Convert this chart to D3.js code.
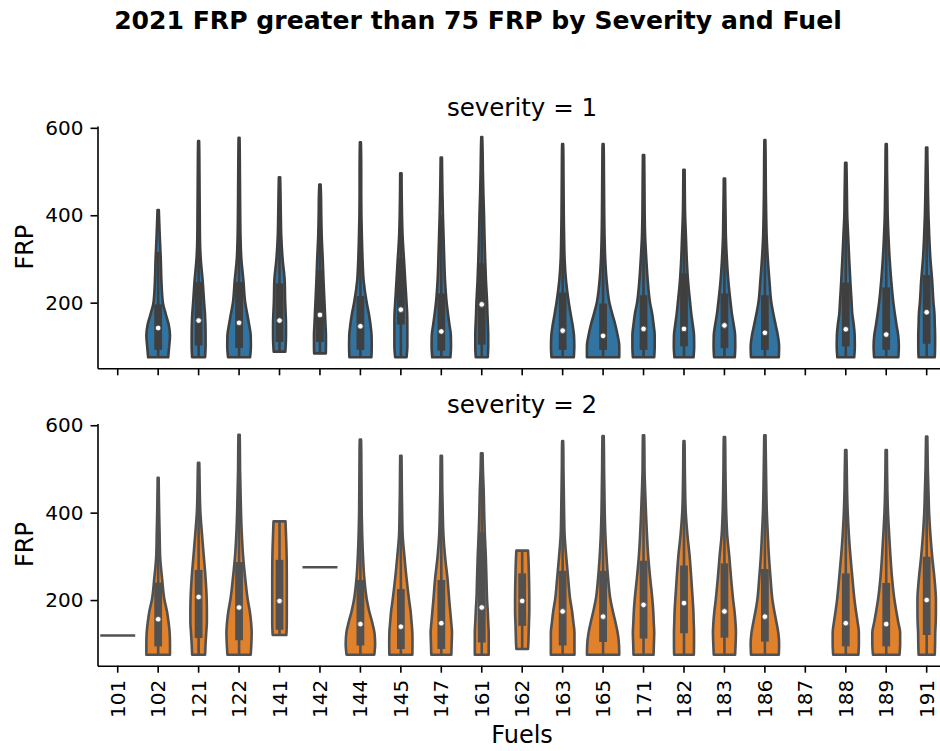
<!DOCTYPE html>
<html>
<head>
<meta charset="utf-8">
<script src="https://cdn.jsdelivr.net/npm/d3@7"></script>
<style>
  body { margin: 0; background: #fff; }
  text { font-family: "DejaVu Sans", sans-serif; fill: #000; }
</style>
</head>
<body>
<svg id="chart" width="940" height="751"></svg>
<script>
// Fuel codes along the x axis
const fuels = ["101","102","121","122","141","142","144","145","147","161","162",
               "163","165","171","182","183","186","187","188","189","191"];
const severities = [1, 2];
const frpTicks = [200, 400, 600];

// FRP levels at which each kernel density is sampled (between a violin's min and max)
const densityGrid = [75, 100, 125, 150, 175, 200, 250, 300, 350, 400, 450, 500, 550];

// ---- severity = 1 ----
const sev1Min     = [null,75,75,75,88,84,75,75,75,75,null,75,75,75,75,75,75,null,75,75,75];
const sev1Max     = [null,412,570,577,487,470,567,496,532,579,null,563,563,538,504,484,572,null,520,563,555];
const sev1Q1      = [null,92,102,96,110,110,92,150,90,104,null,92,92,92,100,96,92,null,100,92,106];
const sev1Median  = [null,142,159,154,159,172,146,184,134,196,null,136,124,140,140,148,131,null,139,127,178];
const sev1Q3      = [null,196,247,247,244,274,215,301,221,290,null,223,198,217,267,221,217,null,246,235,263];
const sev1Whisker = [null,316,460,460,445,470,390,496,400,560,null,420,355,400,480,400,400,null,460,440,500];
// density at [min, grid levels inside (min, max), max], relative to the widest violin
const sev1Density = [
  null,
  [0.62,0.68,0.73,0.65,0.46,0.29,0.20,0.16,0.10,0.05,0.04],
  [0.40,0.43,0.43,0.42,0.39,0.34,0.25,0.13,0.08,0.07,0.06,0.05,0.04,0.03],
  [0.68,0.73,0.72,0.62,0.50,0.38,0.27,0.14,0.09,0.07,0.06,0.05,0.04,0.03],
  [0.36,0.38,0.40,0.40,0.38,0.35,0.32,0.19,0.11,0.08,0.06,0.04],
  [0.36,0.37,0.37,0.34,0.31,0.28,0.22,0.17,0.11,0.08,0.06,0.04],
  [0.68,0.70,0.69,0.62,0.52,0.39,0.20,0.13,0.09,0.06,0.05,0.05,0.04,0.03],
  [0.35,0.40,0.40,0.40,0.39,0.35,0.27,0.19,0.11,0.07,0.05,0.04],
  [0.56,0.60,0.59,0.50,0.41,0.33,0.23,0.18,0.14,0.10,0.07,0.05,0.04],
  [0.37,0.40,0.40,0.38,0.35,0.33,0.26,0.21,0.17,0.14,0.10,0.07,0.05,0.03],
  null,
  [0.69,0.72,0.70,0.61,0.49,0.38,0.21,0.12,0.09,0.07,0.06,0.05,0.04,0.03],
  [1.00,1.00,0.90,0.75,0.56,0.39,0.22,0.13,0.09,0.07,0.06,0.05,0.04,0.03],
  [0.66,0.69,0.69,0.62,0.53,0.40,0.26,0.17,0.10,0.07,0.06,0.05,0.04],
  [0.59,0.63,0.62,0.54,0.45,0.38,0.25,0.17,0.12,0.07,0.05,0.04,0.04],
  [0.64,0.67,0.66,0.57,0.46,0.38,0.24,0.15,0.09,0.07,0.05,0.04],
  [0.86,0.88,0.80,0.66,0.52,0.40,0.28,0.18,0.11,0.08,0.06,0.05,0.04,0.03],
  null,
  [0.52,0.56,0.55,0.49,0.40,0.36,0.28,0.21,0.15,0.09,0.07,0.05,0.04],
  [0.75,0.78,0.74,0.63,0.53,0.44,0.31,0.21,0.14,0.09,0.07,0.05,0.04,0.03],
  [0.50,0.52,0.52,0.50,0.48,0.42,0.34,0.23,0.16,0.11,0.08,0.06,0.04,0.04]
];

// ---- severity = 2 ----
const sev2Min     = [119,75,75,75,120,275,75,75,75,75,88,75,75,75,75,75,75,null,75,75,75];
const sev2Max     = [119,480,514,578,380,275,567,530,530,536,313,564,575,577,564,573,577,null,543,543,574];
const sev2Q1      = [119,94,113,108,132,275,96,88,88,103,141,96,104,112,124,114,105,null,94,94,120];
const sev2Median  = [119,156,207,183,198,275,145,139,147,183,198,174,162,189,193,174,162,null,147,145,200];
const sev2Q3      = [119,240,269,287,292,275,246,225,246,355,261,267,267,290,279,284,271,null,261,239,299];
const sev2Whisker = [119,450,480,560,380,275,450,420,420,536,313,500,500,540,520,520,500,null,500,450,540];
const sev2Density = [
  [1.00],
  [0.73,0.73,0.71,0.64,0.54,0.39,0.24,0.12,0.09,0.06,0.04,0.03],
  [0.40,0.43,0.47,0.51,0.51,0.50,0.43,0.32,0.21,0.11,0.07,0.05,0.04],
  [0.72,0.76,0.78,0.74,0.66,0.54,0.38,0.25,0.17,0.12,0.09,0.06,0.05,0.04],
  [0.42,0.43,0.45,0.45,0.45,0.45,0.44,0.40,0.37],
  [1.00],
  [0.86,0.91,0.87,0.72,0.54,0.40,0.24,0.16,0.11,0.08,0.07,0.06,0.05,0.04],
  [0.71,0.72,0.71,0.66,0.60,0.51,0.35,0.22,0.11,0.08,0.06,0.05,0.04],
  [0.62,0.64,0.66,0.61,0.55,0.49,0.38,0.23,0.13,0.09,0.06,0.05,0.04],
  [0.43,0.43,0.43,0.40,0.37,0.33,0.29,0.25,0.19,0.15,0.12,0.07,0.05],
  [0.36,0.38,0.40,0.42,0.44,0.44,0.42,0.38,0.36],
  [0.73,0.73,0.73,0.66,0.58,0.47,0.34,0.22,0.12,0.09,0.07,0.05,0.04,0.03],
  [1.00,0.98,0.90,0.76,0.60,0.46,0.31,0.21,0.14,0.10,0.08,0.06,0.05,0.04],
  [0.62,0.64,0.66,0.63,0.60,0.55,0.41,0.29,0.21,0.15,0.10,0.06,0.05,0.04],
  [0.61,0.62,0.62,0.60,0.58,0.54,0.45,0.35,0.21,0.11,0.07,0.05,0.04,0.03],
  [0.66,0.69,0.71,0.68,0.62,0.54,0.41,0.30,0.17,0.11,0.08,0.06,0.05,0.04],
  [0.86,0.88,0.83,0.71,0.58,0.47,0.35,0.25,0.18,0.12,0.09,0.07,0.05,0.04],
  null,
  [0.78,0.81,0.81,0.73,0.63,0.54,0.41,0.29,0.19,0.12,0.08,0.06,0.04],
  [0.82,0.86,0.86,0.74,0.62,0.51,0.36,0.26,0.18,0.11,0.07,0.05,0.04],
  [0.50,0.52,0.53,0.56,0.57,0.57,0.48,0.34,0.23,0.15,0.11,0.07,0.05,0.04]
];

// ---------------------------------------------------------------------------
const svg = d3.select("#chart");
const FONT = "DejaVu Sans";

const panels = [
  { severity: severities[0], top: 126, bottom: 368.3, fill: "#3274a1", gray: "#3f3f3f",
    min: sev1Min, max: sev1Max, q1: sev1Q1, med: sev1Median, q3: sev1Q3, wh: sev1Whisker, dens: sev1Density,
    showLabels: false },
  { severity: severities[1], top: 423.4, bottom: 665.7, fill: "#e1812c", gray: "#515151",
    min: sev2Min, max: sev2Max, q1: sev2Q1, med: sev2Median, q3: sev2Q3, wh: sev2Whisker, dens: sev2Density,
    showLabels: true }
];

// shared x (categorical) scale
const x = d3.scaleBand().domain(fuels).range([97.5, 946.9]).paddingInner(0).paddingOuter(0);
const halfW = x.bandwidth() * 0.4;   // violins span 0.8 of a category

// shared y domain: data range with 5% margins
const allMin = d3.min([...sev1Min, ...sev2Min].filter(v => v != null));
const allMax = d3.max([...sev1Max, ...sev2Max].filter(v => v != null));
const padY = (allMax - allMin) * 0.05;
const yDomain = [allMin - padY, allMax + padY];

// title
svg.append("text")
  .attr("x", 478).attr("y", 29)
  .attr("text-anchor", "middle")
  .attr("font-size", 25.1).attr("font-weight", "bold")
  .text("2021 FRP greater than 75 FRP by Severity and Fuel");

panels.forEach(p => {
  const y = d3.scaleLinear().domain(yDomain).range([p.bottom, p.top]);
  const g = svg.append("g");

  // violins
  fuels.forEach((f, i) => {
    if (p.min[i] == null) return;
    const cx = x(f) + x.bandwidth() / 2;
    const lo = p.min[i], hi = p.max[i];

    if (lo === hi) {
      // single observation: a horizontal line across the violin width
      g.append("line")
        .attr("x1", cx - p.dens[i][0] * halfW).attr("x2", cx + p.dens[i][0] * halfW)
        .attr("y1", y(lo)).attr("y2", y(lo))
        .attr("stroke", p.gray).attr("stroke-width", 2.6).attr("stroke-linecap", "square");
      return;
    }

    const support = [lo, ...densityGrid.filter(v => v > lo && v < hi), hi];
    const pts = support.map((v, k) => ({ v, d: p.dens[i][k] }));

    const area = d3.area()
      .y(d => y(d.v))
      .x0(d => cx - d.d * halfW)
      .x1(d => cx + d.d * halfW)
      .curve(d3.curveMonotoneY);

    g.append("path")
      .attr("d", area(pts))
      .attr("fill", p.fill)
      .attr("stroke", p.gray)
      .attr("stroke-width", 2.6)
      .attr("stroke-linejoin", "round");

    // inner box: whisker line, IQR bar, median dot
    g.append("line")
      .attr("x1", cx).attr("x2", cx)
      .attr("y1", y(lo)).attr("y2", y(p.wh[i]))
      .attr("stroke", p.gray).attr("stroke-width", 2.6);
    g.append("line")
      .attr("x1", cx).attr("x2", cx)
      .attr("y1", y(p.q1[i])).attr("y2", y(p.q3[i]))
      .attr("stroke", p.gray).attr("stroke-width", 7.8);
    g.append("circle")
      .attr("cx", cx).attr("cy", y(p.med[i]))
      .attr("r", 2.8)
      .attr("fill", "#fff")
      .attr("stroke", p.gray).attr("stroke-width", 0.8);
  });

  // y axis
  const yAxis = d3.axisLeft(y).tickValues(frpTicks).tickSize(7).tickPadding(7).tickSizeOuter(0);
  const ga = svg.append("g").attr("transform", "translate(97.5,0)").call(yAxis);
  ga.select(".domain").attr("stroke", "#000").attr("stroke-width", 1.6);
  ga.selectAll(".tick line").attr("stroke", "#000").attr("stroke-width", 1.6);
  ga.selectAll(".tick text").attr("font-size", 20).attr("font-family", FONT).attr("fill", "#000");

  // x axis
  const xAxis = d3.axisBottom(x).tickSize(7).tickPadding(7).tickSizeOuter(0);
  const gx = svg.append("g").attr("transform", `translate(0,${p.bottom})`).call(xAxis);
  gx.select(".domain").attr("stroke", "#000").attr("stroke-width", 1.6);
  gx.selectAll(".tick line").attr("stroke", "#000").attr("stroke-width", 1.6);
  if (p.showLabels) {
    gx.selectAll(".tick text")
      .attr("font-size", 20).attr("font-family", FONT).attr("fill", "#000")
      .attr("text-anchor", "end")
      .attr("transform", "rotate(-90)")
      .attr("x", -14).attr("y", 0).attr("dy", "0.35em");
  } else {
    gx.selectAll(".tick text").remove();
  }

  // facet title
  svg.append("text")
    .attr("x", 522).attr("y", p.top - 10)
    .attr("text-anchor", "middle")
    .attr("font-size", 24.5)
    .text(`severity = ${p.severity}`);

  // y label
  svg.append("text")
    .attr("transform", `translate(33,${(p.top + p.bottom) / 2}) rotate(-90)`)
    .attr("text-anchor", "middle")
    .attr("font-size", 24)
    .text("FRP");
});

// x label
svg.append("text")
  .attr("x", 522).attr("y", 743)
  .attr("text-anchor", "middle")
  .attr("font-size", 24)
  .text("Fuels");
</script>
</body>
</html>
